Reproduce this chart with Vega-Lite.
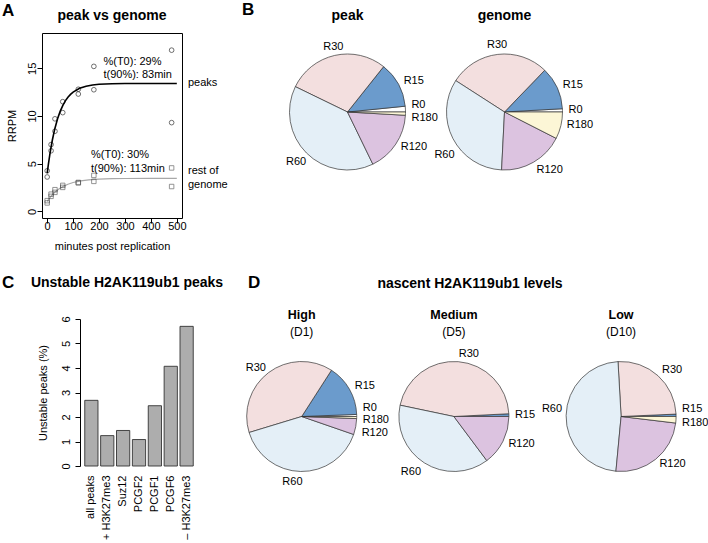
{
  "$schema": "https://vega.github.io/schema/vega-lite/v6.json",
  "padding": {"left": 2, "top": 0, "right": 0, "bottom": 0},
  "bounds": "full",
  "spacing": 21,
  "config": {
    "view": {"stroke": null},
    "font": "Liberation Sans",
    "axis": {"grid": false, "domainColor": "#000", "tickColor": "#000", "labelColor": "#000", "titleColor": "#000",
             "labelFontSize": 11, "titleFontSize": 11, "titleFontWeight": "normal", "tickSize": 5,
             "labelFont": "Liberation Sans", "titleFont": "Liberation Sans"},
    "title": {"color": "#000", "font": "Liberation Sans", "subtitleColor": "#000", "subtitleFont": "Liberation Sans"},
    "text": {"font": "Liberation Sans", "fontSize": 11, "color": "#000"}
  },
  "datasets": {
    "peakPts": [
      {"t": 0, "v": 4.25}, {"t": 0, "v": 3.6}, {"t": 15, "v": 7.0}, {"t": 15, "v": 6.35},
      {"t": 30, "v": 8.4}, {"t": 30, "v": 9.7}, {"t": 60, "v": 11.5}, {"t": 60, "v": 10.35},
      {"t": 120, "v": 12.8}, {"t": 120, "v": 12.3}, {"t": 180, "v": 15.2}, {"t": 180, "v": 12.75},
      {"t": 480, "v": 16.9}, {"t": 480, "v": 9.3}
    ],
    "genomePts": [
      {"t": 0, "v": 1.12}, {"t": 0, "v": 0.88}, {"t": 15, "v": 1.8}, {"t": 15, "v": 1.57},
      {"t": 30, "v": 2.27}, {"t": 30, "v": 1.99}, {"t": 60, "v": 2.72}, {"t": 60, "v": 2.51},
      {"t": 120, "v": 3.03}, {"t": 120, "v": 2.98}, {"t": 180, "v": 3.77}, {"t": 180, "v": 3.14},
      {"t": 480, "v": 4.55}, {"t": 480, "v": 2.6}
    ],
    "peakFit": [
      {"t": 0, "v": 4.0}, {"t": 5, "v": 5.0}, {"t": 10, "v": 5.92}, {"t": 15, "v": 6.74}, {"t": 20, "v": 7.48},
      {"t": 25, "v": 8.13}, {"t": 30, "v": 8.72}, {"t": 40, "v": 9.7}, {"t": 50, "v": 10.48}, {"t": 60, "v": 11.09},
      {"t": 70, "v": 11.58}, {"t": 80, "v": 11.96}, {"t": 90, "v": 12.26}, {"t": 100, "v": 12.5}, {"t": 125, "v": 12.9},
      {"t": 150, "v": 13.12}, {"t": 175, "v": 13.25}, {"t": 200, "v": 13.32}, {"t": 250, "v": 13.38},
      {"t": 300, "v": 13.4}, {"t": 400, "v": 13.4}, {"t": 500, "v": 13.4}
    ],
    "genomeFit": [
      {"t": 0, "v": 1.04}, {"t": 10, "v": 1.42}, {"t": 20, "v": 1.74}, {"t": 30, "v": 2.01}, {"t": 45, "v": 2.34},
      {"t": 60, "v": 2.59}, {"t": 80, "v": 2.84}, {"t": 100, "v": 3.02}, {"t": 130, "v": 3.19}, {"t": 160, "v": 3.3},
      {"t": 200, "v": 3.37}, {"t": 250, "v": 3.42}, {"t": 300, "v": 3.44}, {"t": 400, "v": 3.45}, {"t": 500, "v": 3.45}
    ],
    "annA": [
      {"t": 217, "v": 15.7, "label": "%(T0): 29%"},
      {"t": 217, "v": 14.3, "label": "t(90%): 83min"},
      {"t": 169, "v": 5.86, "label": "%(T0): 30%"},
      {"t": 169, "v": 4.47, "label": "t(90%): 113min"},
      {"t": 543, "v": 13.5, "label": "peaks"},
      {"t": 543, "v": 4.18, "label": "rest of"},
      {"t": 543, "v": 2.79, "label": "genome"}
    ],
    "unstable": [
      {"group": "all peaks", "pct": 2.68},
      {"group": "+ H3K27me3", "pct": 1.24},
      {"group": "Suz12", "pct": 1.45},
      {"group": "PCGF2", "pct": 1.08},
      {"group": "PCGF1", "pct": 2.46},
      {"group": "PCGF6", "pct": 4.07},
      {"group": "– H3K27me3", "pct": 5.7}
    ],
    "pies": [
      {"pie": "peak", "slice": "R0", "k": 0, "value": 1.6},
      {"pie": "peak", "slice": "R15", "k": 1, "value": 12.7},
      {"pie": "peak", "slice": "R30", "k": 2, "value": 28.5},
      {"pie": "peak", "slice": "R60", "k": 3, "value": 39.4},
      {"pie": "peak", "slice": "R120", "k": 4, "value": 16.9},
      {"pie": "peak", "slice": "R180", "k": 5, "value": 0.9},
      {"pie": "genome", "slice": "R0", "k": 0, "value": 0.9},
      {"pie": "genome", "slice": "R15", "k": 1, "value": 11.9},
      {"pie": "genome", "slice": "R30", "k": 2, "value": 28.1},
      {"pie": "genome", "slice": "R60", "k": 3, "value": 33.3},
      {"pie": "genome", "slice": "R120", "k": 4, "value": 18.3},
      {"pie": "genome", "slice": "R180", "k": 5, "value": 7.5},
      {"pie": "High", "slice": "R0", "k": 0, "value": 0.6},
      {"pie": "High", "slice": "R15", "k": 1, "value": 15.3},
      {"pie": "High", "slice": "R30", "k": 2, "value": 38.8},
      {"pie": "High", "slice": "R60", "k": 3, "value": 40.0},
      {"pie": "High", "slice": "R120", "k": 4, "value": 4.7},
      {"pie": "High", "slice": "R180", "k": 5, "value": 0.6},
      {"pie": "Medium", "slice": "R15", "k": 1, "value": 0.8},
      {"pie": "Medium", "slice": "R30", "k": 2, "value": 45.9},
      {"pie": "Medium", "slice": "R60", "k": 3, "value": 38.5},
      {"pie": "Medium", "slice": "R120", "k": 4, "value": 14.8},
      {"pie": "Low", "slice": "R15", "k": 1, "value": 0.7},
      {"pie": "Low", "slice": "R30", "k": 2, "value": 25.2},
      {"pie": "Low", "slice": "R60", "k": 3, "value": 47.6},
      {"pie": "Low", "slice": "R120", "k": 4, "value": 24.6},
      {"pie": "Low", "slice": "R180", "k": 5, "value": 1.9}
    ]
  },
  "vconcat": [
    {
      "hconcat": [
        {
          "width": 40, "height": 1,
          "title": {"text": "A", "anchor": "start", "frame": "group", "fontSize": 17, "fontWeight": "bold", "offset": 11},
          "data": {"values": [{}]}, "mark": {"type": "point", "opacity": 0}, "encoding": {}
        },
        {
          "width": 140,
          "height": 185,
          "view": {"stroke": "#000", "strokeWidth": 1},
          "title": {"text": "peak vs genome", "fontSize": 14, "fontWeight": "bold", "offset": 10},
          "encoding": {
            "x": {"field": "t", "type": "quantitative",
                  "scale": {"domain": [-20, 520], "nice": false, "zero": false},
                  "axis": {"values": [0, 100, 200, 300, 400, 500], "title": "minutes post replication",
                           "domain": false, "labelFlush": false, "labelOverlap": false, "labelPadding": -3, "titlePadding": 9}},
            "y": {"field": "v", "type": "quantitative",
                  "scale": {"domain": [-0.7, 18.7], "nice": false, "zero": false},
                  "axis": {"values": [0, 5, 10, 15], "title": "RRPM", "domain": false,
                           "labelAngle": -90, "labelAlign": "center", "labelBaseline": "bottom",
                           "labelPadding": 0, "titlePadding": 9}}
          },
          "layer": [
            {"data": {"name": "genomeFit"}, "mark": {"type": "line", "stroke": "#a8a8a8", "strokeWidth": 1.2}},
            {"data": {"name": "peakFit"}, "mark": {"type": "line", "stroke": "#000", "strokeWidth": 1.6}},
            {"data": {"name": "peakPts"}, "mark": {"type": "point", "shape": "circle", "filled": false, "stroke": "#000", "strokeWidth": 0.8, "size": 22}},
            {"data": {"name": "genomePts"}, "mark": {"type": "point", "shape": "square", "filled": false, "stroke": "#444", "strokeWidth": 0.8, "size": 20}},
            {"data": {"name": "annA"}, "mark": {"type": "text", "align": "left", "baseline": "middle", "fontSize": 11},
             "encoding": {"text": {"field": "label"}}}
          ]
        },
        {
          "width": 87, "height": 1,
          "title": {"text": "B", "anchor": "start", "frame": "group", "fontSize": 17, "fontWeight": "bold", "dx": 60, "offset": 12},
          "data": {"values": [{}]}, "mark": {"type": "point", "opacity": 0}, "encoding": {}
        },
        {
          "width": 157, "height": 158,
          "title": {"text": "peak", "fontSize": 14, "fontWeight": "bold", "offset": 10},
          "data": {"name": "pies"},
          "transform": [{"filter": "datum.pie == 'peak'"}],
          "encoding": {
            "theta": {"field": "value", "type": "quantitative", "stack": true, "scale": {"domain": [0, 100], "range": [1.5708, -4.7124]}},
            "order": {"field": "k", "type": "quantitative"},
            "detail": {"field": "slice"}
          },
          "layer": [
            {"mark": {"type": "arc", "outerRadius": 58, "stroke": "#333", "strokeWidth": 0.7},
             "encoding": {"color": {"field": "slice", "type": "nominal", "legend": null,
               "scale": {"domain": ["R0", "R15", "R30", "R60", "R120", "R180"], "range": ["#ffffff", "#6b9bcc", "#f3dfdf", "#e4eff7", "#dcc3e0", "#fcf6d6"]}}}},
            {"mark": {"type": "text", "radius": 64, "align": "left", "baseline": "middle", "dy": -4},
             "encoding": {"text": {"condition": {"test": "datum.slice == 'R0'", "field": "slice"}, "value": ""}}},
            {"mark": {"type": "text", "radius": 64, "align": "left", "baseline": "middle"},
             "encoding": {"text": {"condition": {"test": "datum.slice == 'R15' || datum.slice == 'R120'", "field": "slice"}, "value": ""}}},
            {"mark": {"type": "text", "radius": 64, "align": "center", "baseline": "middle", "dy": -3},
             "encoding": {"text": {"condition": {"test": "datum.slice == 'R30'", "field": "slice"}, "value": ""}}},
            {"mark": {"type": "text", "radius": 64, "align": "right", "baseline": "middle", "dx": 4, "dy": 5},
             "encoding": {"text": {"condition": {"test": "datum.slice == 'R60'", "field": "slice"}, "value": ""}}},
            {"mark": {"type": "text", "radius": 64, "align": "left", "baseline": "middle", "dy": 4},
             "encoding": {"text": {"condition": {"test": "datum.slice == 'R180'", "field": "slice"}, "value": ""}}}
          ]
        },
        {
          "width": 157, "height": 158,
          "title": {"text": "genome", "fontSize": 14, "fontWeight": "bold", "offset": 10},
          "data": {"name": "pies"},
          "transform": [{"filter": "datum.pie == 'genome'"}],
          "encoding": {
            "theta": {"field": "value", "type": "quantitative", "stack": true, "scale": {"domain": [0, 100], "range": [1.5708, -4.7124]}},
            "order": {"field": "k", "type": "quantitative"},
            "detail": {"field": "slice"}
          },
          "layer": [
            {"mark": {"type": "arc", "outerRadius": 58, "stroke": "#333", "strokeWidth": 0.7},
             "encoding": {"color": {"field": "slice", "type": "nominal", "legend": null,
               "scale": {"domain": ["R0", "R15", "R30", "R60", "R120", "R180"], "range": ["#ffffff", "#6b9bcc", "#f3dfdf", "#e4eff7", "#dcc3e0", "#fcf6d6"]}}}},
            {"mark": {"type": "text", "radius": 64, "align": "left", "baseline": "middle"},
             "encoding": {"text": {"condition": {"test": "datum.slice == 'R0' || datum.slice == 'R15'", "field": "slice"}, "value": ""}}},
            {"mark": {"type": "text", "radius": 64, "align": "center", "baseline": "middle", "dy": -3},
             "encoding": {"text": {"condition": {"test": "datum.slice == 'R30'", "field": "slice"}, "value": ""}}},
            {"mark": {"type": "text", "radius": 64, "align": "right", "baseline": "middle", "dx": 7, "dy": 14},
             "encoding": {"text": {"condition": {"test": "datum.slice == 'R60'", "field": "slice"}, "value": ""}}},
            {"mark": {"type": "text", "radius": 64, "align": "left", "baseline": "middle", "dy": 3},
             "encoding": {"text": {"condition": {"test": "datum.slice == 'R120'", "field": "slice"}, "value": ""}}},
            {"mark": {"type": "text", "radius": 64, "align": "left", "baseline": "middle", "dy": -2},
             "encoding": {"text": {"condition": {"test": "datum.slice == 'R180'", "field": "slice"}, "value": ""}}}
          ]
        }
      ],
      "spacing": 0,
      "bounds": "flush"
    },
    {
      "hconcat": [
        {
          "width": 78, "height": 1,
          "title": {"text": "C", "anchor": "start", "frame": "group", "fontSize": 17, "fontWeight": "bold", "offset": 25},
          "data": {"values": [{}]}, "mark": {"type": "point", "opacity": 0}, "encoding": {}
        },
        {
          "width": 118, "height": 147,
          "title": {"text": "Unstable H2AK119ub1 peaks", "fontSize": 14, "fontWeight": "bold", "dx": -12, "offset": 25.5},
          "data": {"name": "unstable"},
          "mark": {"type": "bar", "fill": "#adadad", "stroke": "#333", "strokeWidth": 0.9},
          "encoding": {
            "x": {"field": "group", "type": "nominal", "sort": null,
                  "scale": {"paddingInner": 0.167, "paddingOuter": 0.3},
                  "axis": {"title": null, "labelAngle": -90, "ticks": false, "domain": false, "labelPadding": 9}},
            "y": {"field": "pct", "type": "quantitative", "scale": {"domain": [0, 6], "nice": false},
                  "axis": {"values": [0, 1, 2, 3, 4, 5, 6], "title": "Unstable peaks (%)",
                           "labelAngle": -90, "labelAlign": "center", "labelBaseline": "bottom",
                           "labelPadding": 3.5, "titlePadding": 12.5}}
          }
        },
        {
          "width": 20, "height": 1,
          "title": {"text": "D", "anchor": "start", "frame": "group", "fontSize": 17, "fontWeight": "bold", "dx": 50, "offset": 25},
          "data": {"values": [{}]}, "mark": {"type": "point", "opacity": 0}, "encoding": {}
        },
        {
          "width": 20, "height": 1,
          "title": {"text": "nascent H2AK119ub1 levels", "anchor": "middle", "frame": "group", "fontSize": 14, "fontWeight": "bold", "dx": 242, "offset": 25.5},
          "data": {"values": [{}]}, "mark": {"type": "point", "opacity": 0}, "encoding": {}
        },
        {
          "width": 127.4, "height": 195,
          "title": {"text": "High", "subtitle": "(D1)", "fontSize": 12.5, "fontWeight": "bold", "subtitleFontSize": 12, "subtitlePadding": 6, "offset": -19},
          "data": {"name": "pies"},
          "transform": [{"filter": "datum.pie == 'High'"}],
          "encoding": {
            "theta": {"field": "value", "type": "quantitative", "stack": true, "scale": {"domain": [0, 100], "range": [1.5708, -4.7124]}},
            "order": {"field": "k", "type": "quantitative"},
            "detail": {"field": "slice"}
          },
          "layer": [
            {"mark": {"type": "arc", "outerRadius": 55, "stroke": "#333", "strokeWidth": 0.7},
             "encoding": {"color": {"field": "slice", "type": "nominal", "legend": null,
               "scale": {"domain": ["R0", "R15", "R30", "R60", "R120", "R180"], "range": ["#ffffff", "#6b9bcc", "#f3dfdf", "#e9f2f8", "#dcc3e0", "#fcf6d6"]}}}},
            {"mark": {"type": "text", "radius": 61, "align": "left", "baseline": "middle", "dy": -7},
             "encoding": {"text": {"condition": {"test": "datum.slice == 'R0'", "field": "slice"}, "value": ""}}},
            {"mark": {"type": "text", "radius": 61, "align": "left", "baseline": "middle"},
             "encoding": {"text": {"condition": {"test": "datum.slice == 'R15'", "field": "slice"}, "value": ""}}},
            {"mark": {"type": "text", "radius": 61, "align": "right", "baseline": "middle", "dx": 1},
             "encoding": {"text": {"condition": {"test": "datum.slice == 'R30'", "field": "slice"}, "value": ""}}},
            {"mark": {"type": "text", "radius": 61, "align": "right", "baseline": "middle", "dx": 2, "dy": 5},
             "encoding": {"text": {"condition": {"test": "datum.slice == 'R60'", "field": "slice"}, "value": ""}}},
            {"mark": {"type": "text", "radius": 61, "align": "left", "baseline": "middle", "dy": 5},
             "encoding": {"text": {"condition": {"test": "datum.slice == 'R120'", "field": "slice"}, "value": ""}}},
            {"mark": {"type": "text", "radius": 61, "align": "left", "baseline": "middle", "dy": 2.5},
             "encoding": {"text": {"condition": {"test": "datum.slice == 'R180'", "field": "slice"}, "value": ""}}}
          ]
        },
        {
          "width": 175.8, "height": 195,
          "title": {"text": "Medium", "subtitle": "(D5)", "fontSize": 12.5, "fontWeight": "bold", "subtitleFontSize": 12, "subtitlePadding": 6, "offset": -19},
          "data": {"name": "pies"},
          "transform": [{"filter": "datum.pie == 'Medium'"}],
          "encoding": {
            "theta": {"field": "value", "type": "quantitative", "stack": true, "scale": {"domain": [0, 100], "range": [1.5708, -4.7124]}},
            "order": {"field": "k", "type": "quantitative"},
            "detail": {"field": "slice"}
          },
          "layer": [
            {"mark": {"type": "arc", "outerRadius": 55, "stroke": "#333", "strokeWidth": 0.7},
             "encoding": {"color": {"field": "slice", "type": "nominal", "legend": null,
               "scale": {"domain": ["R0", "R15", "R30", "R60", "R120", "R180"], "range": ["#ffffff", "#6b9bcc", "#f3dfdf", "#e9f2f8", "#dcc3e0", "#fcf6d6"]}}}},
            {"mark": {"type": "text", "radius": 61, "align": "left", "baseline": "middle"},
             "encoding": {"text": {"condition": {"test": "datum.slice == 'R15' || datum.slice == 'R120'", "field": "slice"}, "value": ""}}},
            {"mark": {"type": "text", "radius": 61, "align": "left", "baseline": "middle", "dy": -2},
             "encoding": {"text": {"condition": {"test": "datum.slice == 'R30'", "field": "slice"}, "value": ""}}},
            {"mark": {"type": "text", "radius": 61, "align": "right", "baseline": "middle", "dy": 4},
             "encoding": {"text": {"condition": {"test": "datum.slice == 'R60'", "field": "slice"}, "value": ""}}}
          ]
        },
        {
          "width": 158.2, "height": 195,
          "title": {"text": "Low", "subtitle": "(D10)", "fontSize": 12.5, "fontWeight": "bold", "subtitleFontSize": 12, "subtitlePadding": 6, "offset": -19},
          "data": {"name": "pies"},
          "transform": [{"filter": "datum.pie == 'Low'"}],
          "encoding": {
            "theta": {"field": "value", "type": "quantitative", "stack": true, "scale": {"domain": [0, 100], "range": [1.5708, -4.7124]}},
            "order": {"field": "k", "type": "quantitative"},
            "detail": {"field": "slice"}
          },
          "layer": [
            {"mark": {"type": "arc", "outerRadius": 55, "stroke": "#333", "strokeWidth": 0.7},
             "encoding": {"color": {"field": "slice", "type": "nominal", "legend": null,
               "scale": {"domain": ["R0", "R15", "R30", "R60", "R120", "R180"], "range": ["#ffffff", "#6b9bcc", "#f3dfdf", "#e9f2f8", "#dcc3e0", "#fcf6d6"]}}}},
            {"mark": {"type": "text", "radius": 61, "align": "left", "baseline": "middle", "dy": -6},
             "encoding": {"text": {"condition": {"test": "datum.slice == 'R15'", "field": "slice"}, "value": ""}}},
            {"mark": {"type": "text", "radius": 61, "align": "left", "baseline": "middle", "dy": -1},
             "encoding": {"text": {"condition": {"test": "datum.slice == 'R30'", "field": "slice"}, "value": ""}}},
            {"mark": {"type": "text", "radius": 61, "align": "right", "baseline": "middle", "dx": 2, "dy": -6},
             "encoding": {"text": {"condition": {"test": "datum.slice == 'R60'", "field": "slice"}, "value": ""}}},
            {"mark": {"type": "text", "radius": 61, "align": "left", "baseline": "middle"},
             "encoding": {"text": {"condition": {"test": "datum.slice == 'R120'", "field": "slice"}, "value": ""}}},
            {"mark": {"type": "text", "radius": 61, "align": "left", "baseline": "middle", "dy": 3},
             "encoding": {"text": {"condition": {"test": "datum.slice == 'R180'", "field": "slice"}, "value": ""}}}
          ]
        }
      ],
      "spacing": 0,
      "bounds": "flush"
    }
  ]
}
